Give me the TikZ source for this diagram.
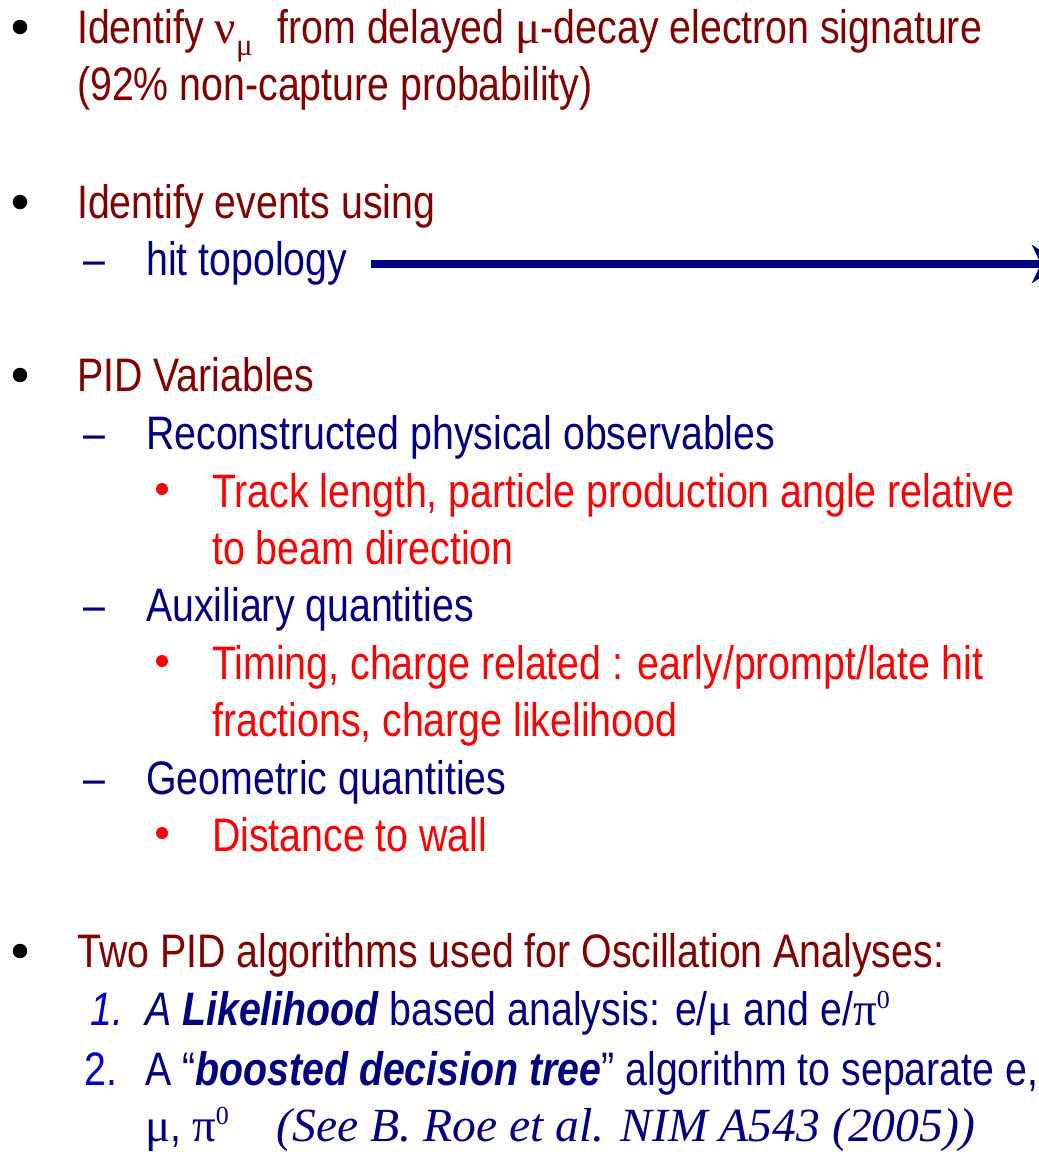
\documentclass[tikz,border=0pt]{standalone}
\usepackage{fontspec}
\setmainfont{Liberation Sans}[FakeStretch=0.836]
\newfontfamily\grk{Liberation Serif}
\usetikzlibrary{arrows.meta}
\definecolor{cMaroon}{RGB}{128,0,0}
\definecolor{cNavy}{RGB}{0,0,128}
\definecolor{cRed}{RGB}{255,0,0}
\definecolor{cNum}{RGB}{0,0,204}
\newcommand\gk[1]{{\grk #1}}
\newcommand\supz{\raisebox{17pt}{\fontsize{26}{26}\selectfont\grk 0}}
\begin{document}
\begin{tikzpicture}[x=1pt,y=-1pt,
  txt/.style={anchor=base west,inner sep=0pt,font=\fontsize{47}{56}\selectfont},
  lone/.style={txt,text=cMaroon},
  ltwo/.style={txt,text=cNavy},
  lthree/.style={txt,text=cRed},
  bigdot/.style={circle,fill=black,inner sep=0pt,minimum size=14.5pt},
  smalldot/.style={circle,fill=cRed,inner sep=0pt,minimum size=12pt},
  dashmark/.style={txt,text=cNavy},
  nummark/.style={txt,text=cNum}]
\useasboundingbox[fill=white] (0,0) rectangle (1039,1152);
% bullet 1
\node[bigdot] (b1) at (20,27) {};
\node[lone] (t1) at (77,43) {Identify \gk{ν}\raisebox{-12pt}{\fontsize{31}{31}\selectfont\grk μ}\hspace{14pt} from delayed \gk{μ}-decay electron signature};
\node[lone] (t2) at (77,100) {(92\% non-capture probability)};
% bullet 2
\node[bigdot] (b2) at (20,202) {};
\node[lone] (t3) at (77,218) {Identify events using};
\node[dashmark] (d1) at (83,275) {–};
\node[ltwo] (ht) at (146,275) {hit topology};
\coordinate (as) at ([xshift=24pt,yshift=11pt]ht.base east);
\coordinate (ae) at (1062,264);
\draw[cNavy,line width=7.5pt,-{Stealth[length=30pt,width=38pt,inset=9pt]}] (as) -- (ae);
% bullet 3
\node[bigdot] (b3) at (20,375) {};
\node[lone] (t4) at (77,391) {PID Variables};
\node[dashmark] (d2) at (83,449) {–};
\node[ltwo] (t5) at (146,449) {Reconstructed physical observables};
\node[smalldot] (s1) at (162,489) {};
\node[lthree] (t6) at (212,507) {Track length, particle production angle relative};
\node[lthree] (t7) at (212,564) {to beam direction};
\node[dashmark] (d3) at (83,621) {–};
\node[ltwo] (t8) at (146,621) {Auxiliary quantities};
\node[smalldot] (s2) at (162,661) {};
\node[lthree] (t9) at (212,679) {Timing, charge related : early/prompt/late hit};
\node[lthree] (t10) at (212,736) {fractions, charge likelihood};
\node[dashmark] (d4) at (83,794) {–};
\node[ltwo] (t11) at (146,794) {Geometric quantities};
\node[smalldot] (s3) at (162,833) {};
\node[lthree] (t12) at (212,851) {Distance to wall};
% bullet 4
\node[bigdot] (b4) at (20,951) {};
\node[lone] (t13) at (77,967) {Two PID algorithms used for Oscillation Analyses:};
\node[nummark] (n1) at (90,1025) {\itshape 1.};
\node[ltwo] (t14) at (145,1025) {\itshape A \bfseries Likelihood\mdseries\upshape{} based analysis: e/\gk{μ} and e/\gk{π}\supz};
\node[nummark] (n2) at (84,1085) {2.};
\node[ltwo] (t15) at (145,1085) {A “\textbf{\textit{boosted decision tree}}” algorithm to separate e,};
\node[ltwo] (t16) at (145,1141) {\gk{μ}, \gk{π}\supz\hspace{48pt}{\grk\itshape\fontsize{47.6}{56}\selectfont (See B. Roe et al. NIM A543 (2005))}};
\end{tikzpicture}
\end{document}
